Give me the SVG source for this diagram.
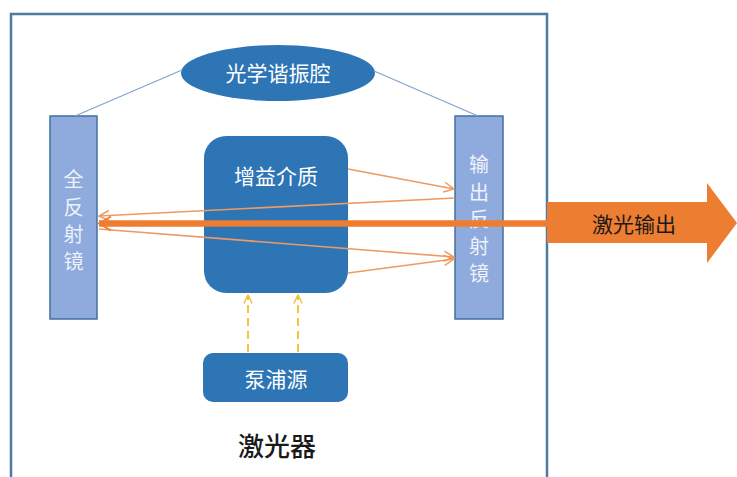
<svg xmlns="http://www.w3.org/2000/svg" width="737" height="477" viewBox="0 0 737 477">
  <defs>
    <style>
      .frame { fill: none; stroke: #4E7BA1; stroke-width: 2.5; }
      .link { fill: none; stroke: #7FA6CE; stroke-width: 1.3; }
      .mirror { fill: #8FAADC; stroke: #41719C; stroke-width: 1.5; }
      .block { fill: #2E75B6; }
      .ray { fill: none; stroke: #EE9A62; stroke-width: 1.6; }
      .beam { fill: none; stroke: #ED7D31; stroke-width: 6.5; }
      .pump { fill: none; stroke: #F4BE2A; stroke-width: 1.8; stroke-dasharray: 8 5; }
      text { font-family: "Noto Sans CJK SC", "Noto Sans", sans-serif; text-anchor: middle; dominant-baseline: central; }
      .light { fill: #FFFFFF; font-size: 21px; }
      .mlabel { fill: #EEF2FA; font-size: 20px; }
      .dark { fill: #1A1A1A; }
    </style>
    <marker id="openArrow" viewBox="0 0 12 12" refX="11" refY="6" markerWidth="12" markerHeight="12" markerUnits="userSpaceOnUse" orient="auto">
      <path d="M1,1 L11,6 L1,11" fill="none" stroke="#EE9A62" stroke-width="1.5"/>
    </marker>
    <marker id="beamArrow" viewBox="0 0 14 16" refX="13" refY="8" markerWidth="14" markerHeight="16" markerUnits="userSpaceOnUse" orient="auto">
      <path d="M1,1 L13,8 L1,15" fill="none" stroke="#ED7D31" stroke-width="1.8"/>
    </marker>
    <marker id="pumpArrow" viewBox="0 0 12 12" refX="11" refY="6" markerWidth="10" markerHeight="10" markerUnits="userSpaceOnUse" orient="auto">
      <path d="M1,1 L11,6 L1,11" fill="none" stroke="#F4BE2A" stroke-width="1.6"/>
    </marker>
  </defs>

  <!-- laser housing -->
  <path class="frame" d="M11,480 V14 H547 V480"/>

  <!-- output beam leaving the housing -->
  <g id="output">
    <polygon points="547,202 707,202 707,183 737,223 707,263 707,243 547,243" fill="#ED7D31"/>
    <text class="dark" x="634" y="223" font-size="21">激光输出</text>
  </g>

  <!-- resonator label -->
  <g id="resonator">
    <ellipse class="block" cx="278" cy="73" rx="97" ry="28"/>
    <text class="light" x="278" y="72" font-size="22">光学谐振腔</text>
  </g>

  <!-- mirrors -->
  <g id="mirror-full">
    <rect class="mirror" x="50" y="116" width="47" height="203"/>
    <text class="mlabel" x="73.5" y="178">全</text>
    <text class="mlabel" x="73.5" y="206">反</text>
    <text class="mlabel" x="73.5" y="233">射</text>
    <text class="mlabel" x="73.5" y="260">镜</text>
  </g>
  <g id="mirror-output">
    <rect class="mirror" x="455" y="116" width="48" height="203"/>
    <text class="mlabel" x="479" y="163">输</text>
    <text class="mlabel" x="479" y="191">出</text>
    <text class="mlabel" x="479" y="218">反</text>
    <text class="mlabel" x="479" y="245">射</text>
    <text class="mlabel" x="479" y="272">镜</text>
  </g>

  <!-- gain medium -->
  <g id="gain">
    <rect class="block" x="204" y="136" width="144" height="157" rx="22" ry="22"/>
    <text class="light" x="276" y="175">增益介质</text>
  </g>

  <!-- pump source -->
  <g id="pump">
    <rect class="block" x="203" y="353" width="145" height="49" rx="10" ry="10"/>
    <text class="light" x="276" y="378">泵浦源</text>
  </g>

  <text id="title" class="dark" x="277" y="444" font-size="26" font-weight="500">激光器</text>

  <!-- connectors -->
  <g id="connectors">
    <line class="link" x1="182" y1="70" x2="75" y2="116"/>
    <line class="link" x1="374" y1="71" x2="478" y2="116"/>

    <line class="ray" x1="348" y1="169" x2="454" y2="189" marker-end="url(#openArrow)"/>
    <line class="ray" x1="455" y1="198" x2="99" y2="216" marker-end="url(#openArrow)"/>
    <line class="ray" x1="99" y1="229" x2="454" y2="257" marker-end="url(#openArrow)"/>
    <line class="ray" x1="348" y1="273" x2="454" y2="259" marker-end="url(#openArrow)"/>

    <line class="beam" x1="547" y1="223.5" x2="99" y2="223.5" marker-end="url(#beamArrow)"/>

    <line class="pump" x1="248" y1="352" x2="248" y2="295" marker-end="url(#pumpArrow)"/>
    <line class="pump" x1="298" y1="352" x2="298" y2="295" marker-end="url(#pumpArrow)"/>
  </g>
</svg>
